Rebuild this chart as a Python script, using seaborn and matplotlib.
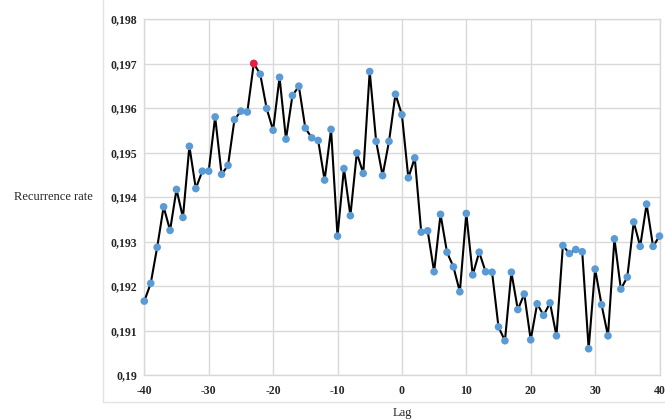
import matplotlib
matplotlib.use("Agg")
import matplotlib.pyplot as plt
from matplotlib.lines import Line2D
from matplotlib.ticker import FuncFormatter
import numpy as np
import pandas as pd
import seaborn as sns

# Lags and cross recurrence rate per lag
lags = list(range(-40, 41))
rates = [
    0.19166, 0.19206, 0.19287, 0.19378, 0.19325, 0.19417, 0.19354, 0.19514, 0.19419, 0.19458,
    0.19458, 0.19580, 0.19451, 0.19471, 0.19574, 0.19593, 0.19591, 0.19700, 0.19676, 0.19599,
    0.19550, 0.19669, 0.19530, 0.19628, 0.19649, 0.19555, 0.19533, 0.19527, 0.19438, 0.19552,
    0.19312, 0.19464, 0.19358, 0.19499, 0.19453, 0.19682, 0.19525, 0.19448, 0.19525, 0.19631,
    0.19585, 0.19443, 0.19488, 0.19321, 0.19324, 0.19232, 0.19361, 0.19276, 0.19243, 0.19187,
    0.19363, 0.19225, 0.19276, 0.19232, 0.19231, 0.19108, 0.19077, 0.19231, 0.19147, 0.19182,
    0.19079, 0.19160, 0.19134, 0.19162, 0.19088, 0.19291, 0.19273, 0.19282, 0.19277, 0.19059,
    0.19238, 0.19158, 0.19088, 0.19306, 0.19193, 0.19220, 0.19344, 0.19289, 0.19384, 0.19289,
    0.19312,
]
x_ticks = list(range(-40, 41, 10))
y_ticks = [0.190, 0.191, 0.192, 0.193, 0.194, 0.195, 0.196, 0.197, 0.198]

df = pd.DataFrame({"Lag": lags, "Rate": rates})
peak = df.loc[[df["Rate"].idxmax()]]

sns.set_style("white")
plt.rcParams["font.family"] = ["Liberation Serif", "DejaVu Serif"]

W, H = 665, 419
fig = plt.figure(figsize=(W / 100, H / 100), dpi=100)
ax = fig.add_axes([144.3 / W, 1 - 375 / H, (659.5 - 144.3) / W, (375 - 19) / H])

grid_c = "#d9d9d9"
sns.lineplot(data=df, x="Lag", y="Rate", ax=ax, color="black", linewidth=1.5, zorder=3)
sns.scatterplot(data=df, x="Lag", y="Rate", ax=ax, color="#5b9bd5", s=30,
                edgecolor="none", zorder=4)
sns.scatterplot(data=peak, x="Lag", y="Rate", ax=ax, color="#e8203c", s=30,
                edgecolor="none", zorder=5)
for coll in ax.collections:
    coll.set_clip_on(False)
for ln in ax.lines:
    ln.set_clip_on(False)

ax.set_xlim(-40, 40)
ax.set_ylim(0.190, 0.198)
ax.set_xticks(x_ticks)
ax.set_yticks(y_ticks)
ax.yaxis.set_major_formatter(FuncFormatter(lambda v, p: f"{v:.3f}".rstrip("0").replace(".", ",")))
ax.xaxis.set_major_formatter(FuncFormatter(lambda v, p: f"{int(round(v))}"))
ax.grid(True, color=grid_c, linewidth=1)
ax.set_axisbelow(True)
for s in ax.spines.values():
    s.set_color(grid_c)
    s.set_linewidth(1)
ax.tick_params(length=0, labelsize=8.5)
ax.tick_params(axis="y", pad=5)
ax.tick_params(axis="x", pad=7)
for lab in ax.get_xticklabels() + ax.get_yticklabels():
    lab.set_fontweight("bold")
ax.set_xlabel("")
ax.set_ylabel("")

# Outer chart frame lines
fig.add_artist(Line2D([102.7 / W, 102.7 / W], [1.0, 1 - 401.7 / H],
                      transform=fig.transFigure, color="#e3e3e3", linewidth=1))
fig.add_artist(Line2D([102.7 / W, 1.0], [1 - 401.7 / H, 1 - 401.7 / H],
                      transform=fig.transFigure, color="#e3e3e3", linewidth=1))

fig.text(14 / W, 1 - 197 / H, "Recurrence rate", ha="left", va="center", fontsize=9)
fig.text(402 / W, 1 - 413 / H, "Lag", ha="center", va="center", fontsize=9)

fig.savefig("out.png", dpi=100)
